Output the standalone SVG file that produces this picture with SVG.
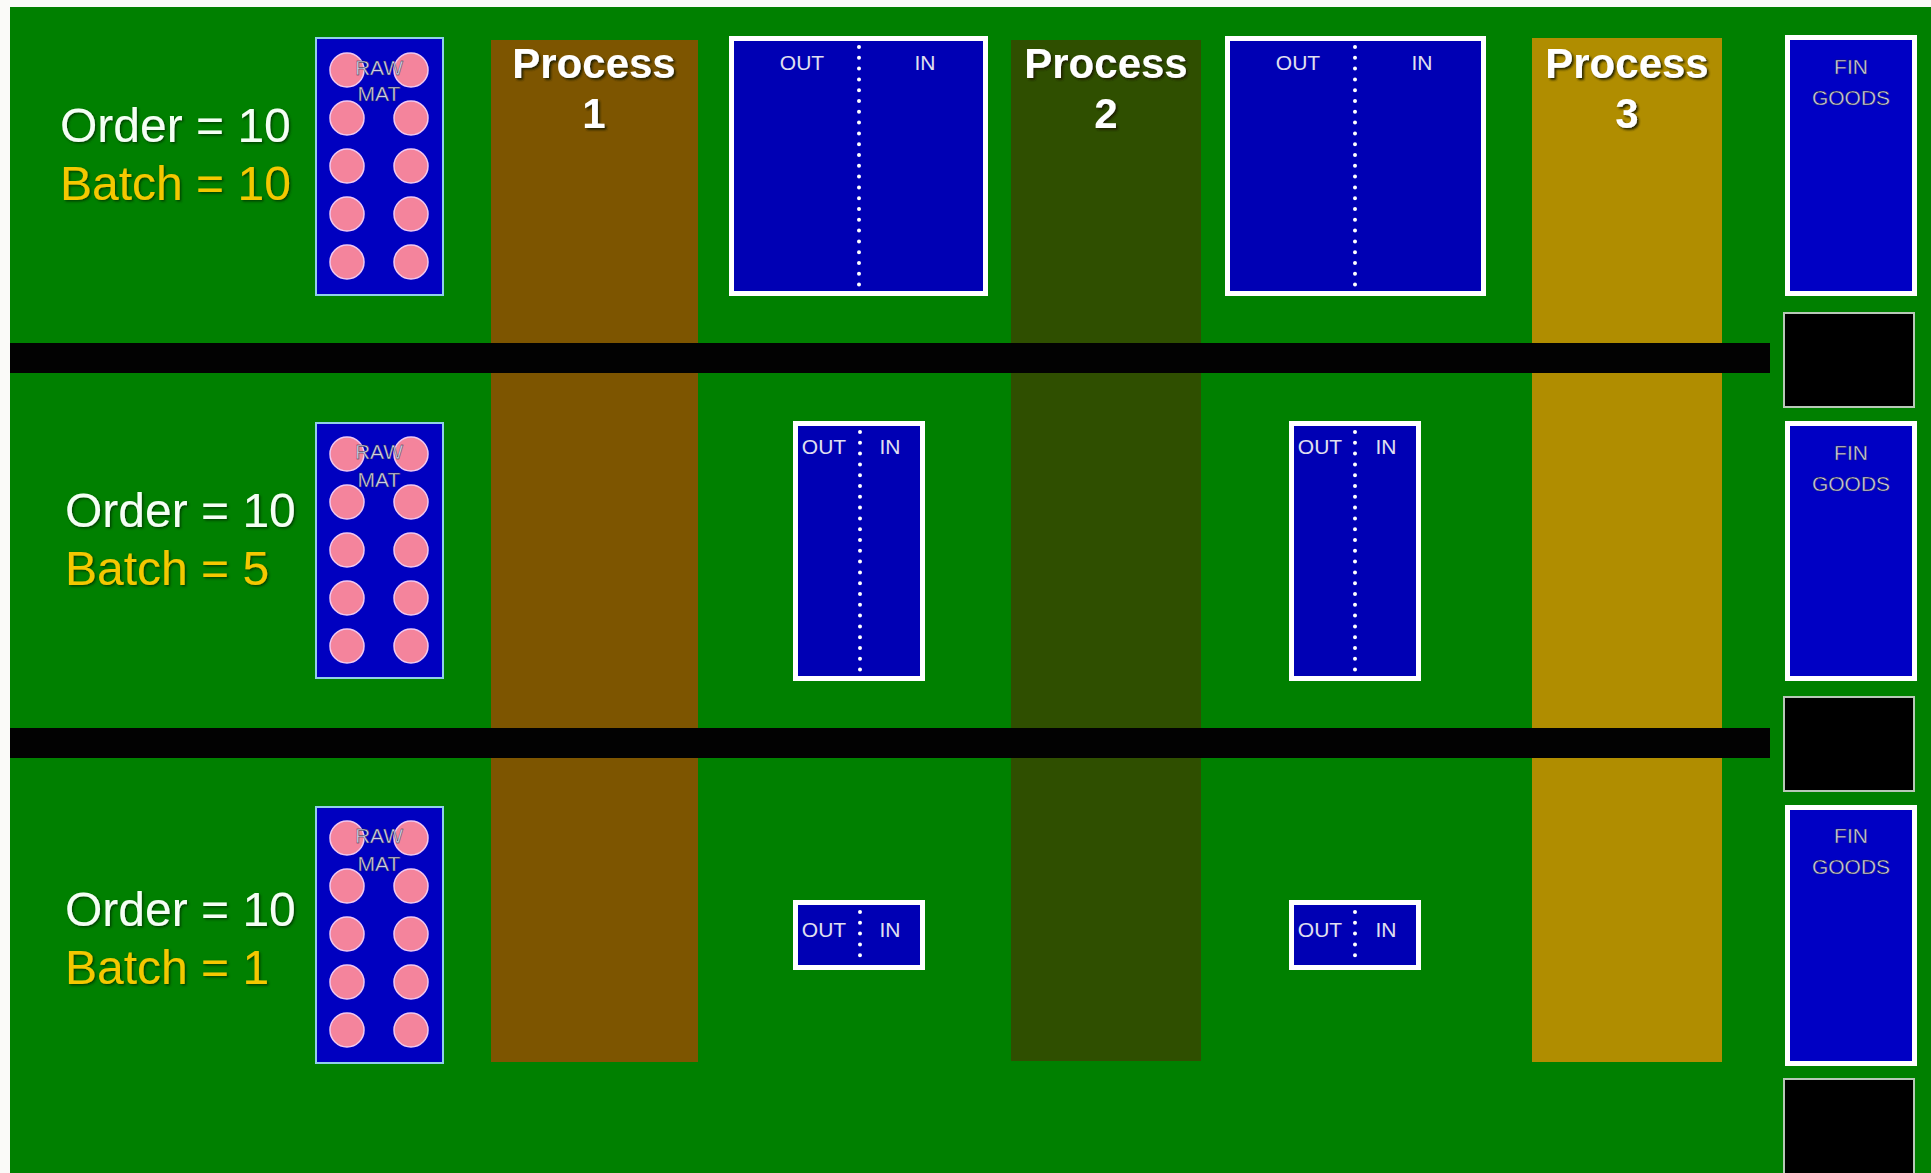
<svg xmlns="http://www.w3.org/2000/svg" width="1931" height="1173" viewBox="0 0 1931 1173">
<defs>
<style>
.bg{fill:#008000}
.p1{fill:#7d5500}
.p2{fill:#2f4f00}
.p3{fill:#b08d00}
.bar{fill:#020202}
.raw{fill:#0000c0;stroke:#8fd0e8;stroke-width:2}
.dot{fill:#f4849c;stroke:#f0c8f0;stroke-width:1.5}
.lbl{font-family:"Liberation Sans",Arial,sans-serif;font-size:21px;fill:#d0d0e4;stroke:#202040;stroke-width:0.4;text-anchor:middle}
.buf{fill:#0000b4;stroke:#ffffff;stroke-width:5}
.fin{fill:#0000c4;stroke:#ffffff;stroke-width:5}
.blk{fill:#000000;stroke:#b8c8b8;stroke-width:2}
.div{stroke:#ffffff;stroke-width:4;stroke-linecap:round;stroke-dasharray:0 10.8;fill:none}
.oi{font-family:"Liberation Sans",Arial,sans-serif;font-size:21px;fill:#e0e0f0;text-anchor:middle}
.proc{font-family:"Liberation Sans",Arial,sans-serif;font-weight:bold;font-size:42px;fill:#ffffff;text-anchor:middle;filter:url(#sh)}
.ord{font-family:"Liberation Sans",Arial,sans-serif;font-size:48px;fill:#f4fff4;filter:url(#sh2)}
.bat{font-family:"Liberation Sans",Arial,sans-serif;font-size:48px;fill:#f4c800;filter:url(#sh2)}
</style>
<filter id="sh" x="-10%" y="-20%" width="130%" height="150%">
<feDropShadow dx="2" dy="2" stdDeviation="1" flood-color="#1a1a00" flood-opacity="0.9"/>
</filter>
<filter id="sh2" x="-10%" y="-20%" width="130%" height="150%">
<feDropShadow dx="1.5" dy="1.5" stdDeviation="1" flood-color="#003000" flood-opacity="0.8"/>
</filter>
<g id="rawdots">
<circle class="dot" cx="347" cy="0" r="17"/><circle class="dot" cx="411" cy="0" r="17"/>
<circle class="dot" cx="347" cy="48" r="17"/><circle class="dot" cx="411" cy="48" r="17"/>
<circle class="dot" cx="347" cy="96" r="17"/><circle class="dot" cx="411" cy="96" r="17"/>
<circle class="dot" cx="347" cy="144" r="17"/><circle class="dot" cx="411" cy="144" r="17"/>
<circle class="dot" cx="347" cy="192" r="17"/><circle class="dot" cx="411" cy="192" r="17"/>
</g>
</defs>
<rect x="0" y="0" width="1931" height="1173" fill="#fafaf8"/>
<rect class="bg" x="10" y="7" width="1921" height="1166"/>

<g id="process1"><rect class="p1" x="491" y="40" width="207" height="1022"/>
<text class="proc" x="594" y="78">Process</text><text class="proc" x="594" y="128">1</text></g>
<g id="process2"><rect class="p2" x="1011" y="40" width="190" height="1021"/>
<text class="proc" x="1106" y="78">Process</text><text class="proc" x="1106" y="128">2</text></g>
<g id="process3"><rect class="p3" x="1532" y="38" width="190" height="1024"/>
<text class="proc" x="1627" y="78">Process</text><text class="proc" x="1627" y="128">3</text></g>

<g id="bars">
<rect class="bar" x="10" y="343" width="1760" height="30"/>
<rect class="bar" x="10" y="728" width="1760" height="30"/>
</g>

<g id="row1-labels"><text class="ord" x="60" y="142">Order = 10</text><text class="bat" x="60" y="200">Batch = 10</text></g>
<g id="row2-labels"><text class="ord" x="65" y="527">Order = 10</text><text class="bat" x="65" y="585">Batch = 5</text></g>
<g id="row3-labels"><text class="ord" x="65" y="926">Order = 10</text><text class="bat" x="65" y="984">Batch = 1</text></g>

<g id="raw1"><rect class="raw" x="316" y="38" width="127" height="257"/>
<use href="#rawdots" y="70"/>
<text class="lbl" x="379" y="75">RAW</text><text class="lbl" x="379" y="101">MAT</text></g>
<g id="raw2"><rect class="raw" x="316" y="423" width="127" height="255"/>
<use href="#rawdots" y="454"/>
<text class="lbl" x="379" y="459">RAW</text><text class="lbl" x="379" y="487">MAT</text></g>
<g id="raw3"><rect class="raw" x="316" y="807" width="127" height="256"/>
<use href="#rawdots" y="838"/>
<text class="lbl" x="379" y="843">RAW</text><text class="lbl" x="379" y="871">MAT</text></g>

<g id="buf1a"><rect class="buf" x="731.5" y="38.5" width="254" height="255"/>
<line class="div" x1="859" y1="47" x2="859" y2="286"/>
<text class="oi" x="802" y="70">OUT</text><text class="oi" x="925" y="70">IN</text></g>
<g id="buf1b"><rect class="buf" x="1227.5" y="38.5" width="256" height="255"/>
<line class="div" x1="1355" y1="47" x2="1355" y2="286"/>
<text class="oi" x="1298" y="70">OUT</text><text class="oi" x="1422" y="70">IN</text></g>

<g id="buf2a"><rect class="buf" x="795.5" y="423.5" width="127" height="255"/>
<line class="div" x1="860" y1="432" x2="860" y2="670"/>
<text class="oi" x="824" y="454">OUT</text><text class="oi" x="890" y="454">IN</text></g>
<g id="buf2b"><rect class="buf" x="1291.5" y="423.5" width="127" height="255"/>
<line class="div" x1="1355" y1="432" x2="1355" y2="670"/>
<text class="oi" x="1320" y="454">OUT</text><text class="oi" x="1386" y="454">IN</text></g>

<g id="buf3a"><rect class="buf" x="795.5" y="902.5" width="127" height="65"/>
<line class="div" x1="860" y1="912" x2="860" y2="958"/>
<text class="oi" x="824" y="937">OUT</text><text class="oi" x="890" y="937">IN</text></g>
<g id="buf3b"><rect class="buf" x="1291.5" y="902.5" width="127" height="65"/>
<line class="div" x1="1355" y1="912" x2="1355" y2="958"/>
<text class="oi" x="1320" y="937">OUT</text><text class="oi" x="1386" y="937">IN</text></g>

<g id="fin1"><rect class="fin" x="1787.5" y="37.5" width="127" height="256"/>
<text class="lbl" x="1851" y="74">FIN</text><text class="lbl" x="1851" y="105">GOODS</text></g>
<g id="blk1"><rect class="blk" x="1784" y="313" width="130" height="94"/></g>
<g id="fin2"><rect class="fin" x="1787.5" y="423.5" width="127" height="255"/>
<text class="lbl" x="1851" y="460">FIN</text><text class="lbl" x="1851" y="491">GOODS</text></g>
<g id="blk2"><rect class="blk" x="1784" y="697" width="130" height="94"/></g>
<g id="fin3"><rect class="fin" x="1787.5" y="807.5" width="127" height="256"/>
<text class="lbl" x="1851" y="843">FIN</text><text class="lbl" x="1851" y="874">GOODS</text></g>
<g id="blk3"><rect class="blk" x="1784" y="1079" width="130" height="100"/></g>
</svg>
